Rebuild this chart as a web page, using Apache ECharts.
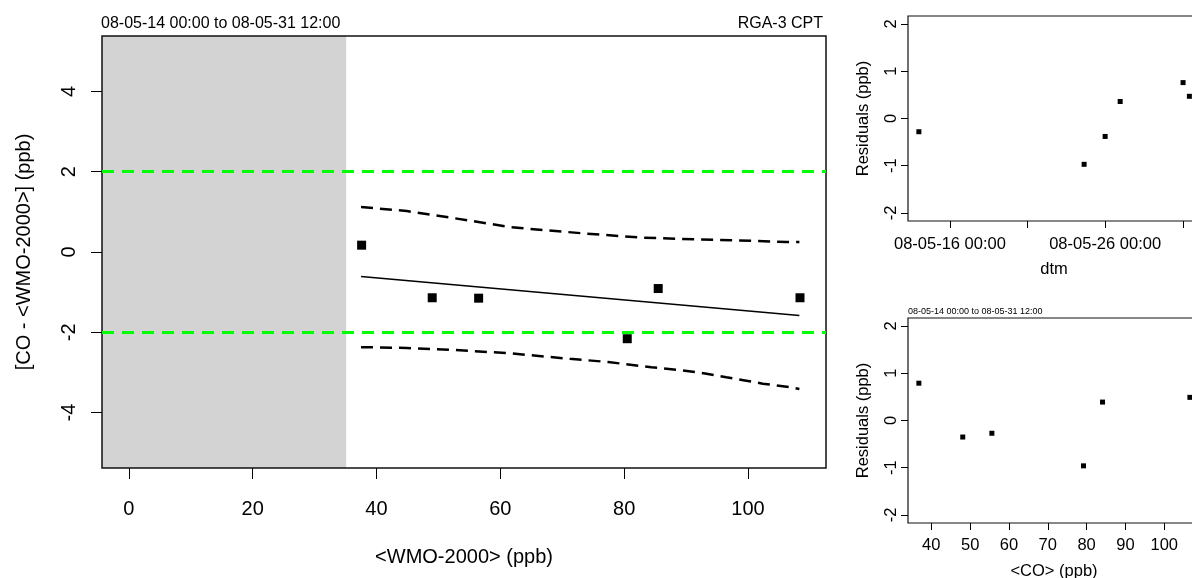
<!DOCTYPE html>
<html>
<head>
<meta charset="utf-8">
<script src="https://cdn.jsdelivr.net/npm/echarts@6/dist/echarts.min.js"></script>
<style>html,body{margin:0;padding:0;background:#fff;overflow:hidden;width:1192px;height:578px;}#c{width:1210px;height:578px;}</style>
</head>
<body>
<div id="c"></div>
<script>
// ---- data ----
const titleText = '08-05-14 00:00 to 08-05-31 12:00';
const instrumentText = 'RGA-3 CPT';

// main panel: difference vs WMO-2000 mole fraction
const wmoX = [37.6, 49.0, 56.5, 80.5, 85.5, 108.4];
const diffY = [0.17, -1.14, -1.15, -2.16, -0.91, -1.14];
const fitX = [37.5, 108.3];
const fitY = [-0.61, -1.58];
const upperX = [37.5, 44.9, 50.5, 55.6, 61.6, 67.5, 73.7, 82.5, 92.2, 98.4, 106.2, 108.3];
const upperY = [1.12, 1.02, 0.89, 0.77, 0.62, 0.54, 0.46, 0.36, 0.31, 0.29, 0.25, 0.25];
const lowerX = [37.5, 44.9, 52.4, 61.3, 71.2, 77.4, 84.4, 89.5, 93.3, 96.5, 99.5, 102.4, 107.3, 108.3];
const lowerY = [-2.37, -2.39, -2.44, -2.52, -2.66, -2.74, -2.87, -2.95, -3.03, -3.12, -3.20, -3.28, -3.38, -3.41];
const limitLines = [2, -2];
const excludedBelow = 35.1;
const mainXRange = [-4.33, 112.6];
const mainYRange = [-5.38, 5.38];
const mainXTicks = [0, 20, 40, 60, 80, 100];
const mainYTicks = [-4, -2, 0, 2, 4];

// residuals vs time
const resTimes = ['2008-05-14T00:00:00Z', '2008-05-24T15:30:00Z', '2008-05-26T00:00:00Z', '2008-05-26T23:15:00Z', '2008-05-31T00:30:00Z', '2008-05-31T10:15:00Z'];
const resVsTime = [-0.28, -0.97, -0.38, 0.36, 0.76, 0.47];
const timeRange = ['2008-05-13T07:12:00Z', '2008-06-01T02:40:00Z'];
const timeTicks = ['2008-05-16T00:00:00Z', '2008-05-21T00:00:00Z', '2008-05-26T00:00:00Z', '2008-05-31T00:00:00Z'];
const timeLabels = ['2008-05-16T00:00:00Z', '2008-05-26T00:00:00Z'];

// residuals vs CO
const coX = [36.8, 48.1, 55.6, 79.2, 84.1, 106.6];
const resVsCO = [0.79, -0.35, -0.27, -0.96, 0.39, 0.49];
const coRange = [34.0, 109.2];
const coTicks = [40, 50, 60, 70, 80, 90, 100];
const resRange = [-2.17, 2.17];
const resTicks = [-2, -1, 0, 1, 2];

// ---- chart ----
const FONT = "'Liberation Sans', Arial, sans-serif";
const pad = n => String(n).padStart(2, '0');
function fmtTime(v) {
  const d = new Date(v);
  return pad(d.getUTCFullYear() % 100) + '-' + pad(d.getUTCMonth() + 1) + '-' + pad(d.getUTCDate()) + ' ' + pad(d.getUTCHours()) + ':' + pad(d.getUTCMinutes());
}
const zip = (a, b) => a.map((v, i) => [v, b[i]]);
const ms = s => Date.parse(s);

function valAxis(extra) {
  return Object.assign({
    type: 'value',
    splitLine: { show: false },
    axisLine: { show: false, onZero: false },
    axisTick: { show: true, length: 7, lineStyle: { color: '#000', width: 1 } },
    axisLabel: { color: '#000', fontFamily: FONT, fontSize: 16.5 },
    nameTextStyle: { color: '#000', fontFamily: FONT, fontSize: 16.5 },
    nameLocation: 'middle'
  }, extra);
}

const chart = echarts.init(document.getElementById('c'), null, { renderer: 'canvas' });
chart.setOption({
  animation: false,
  backgroundColor: '#fff',
  title: [
    { text: titleText, left: 101, top: 16, padding: 0, textStyle: { fontFamily: FONT, fontSize: 16, fontWeight: 'normal', color: '#000' } },
    { text: instrumentText, right: 387, top: 16, padding: 0, textStyle: { fontFamily: FONT, fontSize: 16, fontWeight: 'normal', color: '#000' } },
    { text: titleText, left: 908, top: 307, padding: 0, textStyle: { fontFamily: FONT, fontSize: 9, fontWeight: 'normal', color: '#000' } }
  ],
  grid: [
    { left: 102, top: 36, width: 724, height: 432, show: true, z: 3, borderColor: '#111', borderWidth: 1.5, backgroundColor: 'transparent', outerBoundsMode: 'none', containLabel: false },
    { left: 908, top: 16, width: 292, height: 205, show: true, z: 3, borderColor: '#111', borderWidth: 1.2, backgroundColor: 'transparent', outerBoundsMode: 'none', containLabel: false },
    { left: 908, top: 318, width: 292, height: 205, show: true, z: 3, borderColor: '#111', borderWidth: 1.2, backgroundColor: 'transparent', outerBoundsMode: 'none', containLabel: false }
  ],
  xAxis: [
    valAxis({
      gridIndex: 0, min: mainXRange[0], max: mainXRange[1],
      name: '<WMO-2000> (ppb)', nameGap: 79,
      nameTextStyle: { color: '#000', fontFamily: FONT, fontSize: 20 },
      axisTick: { show: true, length: 11, customValues: mainXTicks, lineStyle: { color: '#000', width: 1 } },
      axisLabel: { customValues: mainXTicks, color: '#000', fontFamily: FONT, fontSize: 20, margin: 31 }
    }),
    valAxis({
      gridIndex: 1, min: ms(timeRange[0]), max: ms(timeRange[1]),
      name: 'dtm', nameGap: 40,
      axisTick: { show: true, length: 7, customValues: timeTicks.map(ms), lineStyle: { color: '#000', width: 1 } },
      axisLabel: { customValues: timeLabels.map(ms), formatter: v => fmtTime(v), color: '#000', fontFamily: FONT, fontSize: 16.5, margin: 15 }
    }),
    valAxis({
      gridIndex: 2, min: coRange[0], max: coRange[1],
      name: '<CO> (ppb)', nameGap: 40,
      axisTick: { show: true, length: 7, customValues: coTicks, lineStyle: { color: '#000', width: 1 } },
      axisLabel: { customValues: coTicks, color: '#000', fontFamily: FONT, fontSize: 16.5, margin: 14 }
    })
  ],
  yAxis: [
    valAxis({
      gridIndex: 0, min: mainYRange[0], max: mainYRange[1],
      name: '[CO - <WMO-2000>] (ppb)', nameGap: 68,
      nameTextStyle: { color: '#000', fontFamily: FONT, fontSize: 20 },
      axisTick: { show: true, length: 11, customValues: mainYTicks, lineStyle: { color: '#000', width: 1 } },
      axisLabel: { customValues: mainYTicks, rotate: 90, color: '#000', fontFamily: FONT, fontSize: 20, margin: 23 }
    }),
    valAxis({
      gridIndex: 1, min: resRange[0], max: resRange[1],
      name: 'Residuals (ppb)', nameGap: 36,
      axisTick: { show: true, length: 7, customValues: resTicks, lineStyle: { color: '#000', width: 1 } },
      axisLabel: { customValues: resTicks, rotate: 90, color: '#000', fontFamily: FONT, fontSize: 16.5, margin: 8 }
    }),
    valAxis({
      gridIndex: 2, min: resRange[0], max: resRange[1],
      name: 'Residuals (ppb)', nameGap: 36,
      axisTick: { show: true, length: 7, customValues: resTicks, lineStyle: { color: '#000', width: 1 } },
      axisLabel: { customValues: resTicks, rotate: 90, color: '#000', fontFamily: FONT, fontSize: 16.5, margin: 8 }
    })
  ],
  series: [
    {
      type: 'line', xAxisIndex: 0, yAxisIndex: 0, data: [], silent: true,
      markArea: {
        silent: true,
        itemStyle: { color: '#d3d3d3' },
        data: [[{ xAxis: mainXRange[0] }, { xAxis: excludedBelow }]]
      },
      markLine: {
        silent: true, symbol: ['none', 'none'], label: { show: false },
        lineStyle: { color: '#00ff00', width: 3, type: [12, 8] },
        data: limitLines.map(v => ({ yAxis: v }))
      }
    },
    {
      type: 'line', xAxisIndex: 0, yAxisIndex: 0, data: zip(upperX, upperY), showSymbol: false, silent: true,
      lineStyle: { color: '#000', width: 2.5, type: [12, 7] }
    },
    {
      type: 'line', xAxisIndex: 0, yAxisIndex: 0, data: zip(lowerX, lowerY), showSymbol: false, silent: true,
      lineStyle: { color: '#000', width: 2.5, type: [12, 7] }
    },
    {
      type: 'line', xAxisIndex: 0, yAxisIndex: 0, data: zip(fitX, fitY), showSymbol: false, silent: true,
      lineStyle: { color: '#000', width: 1.5 }
    },
    {
      type: 'scatter', xAxisIndex: 0, yAxisIndex: 0, data: zip(wmoX, diffY),
      symbol: 'rect', symbolSize: 9, itemStyle: { color: '#000', opacity: 1 }
    },
    {
      type: 'scatter', xAxisIndex: 1, yAxisIndex: 1, data: zip(resTimes.map(ms), resVsTime),
      symbol: 'rect', symbolSize: 5, itemStyle: { color: '#000', opacity: 1 }
    },
    {
      type: 'scatter', xAxisIndex: 2, yAxisIndex: 2, data: zip(coX, resVsCO),
      symbol: 'rect', symbolSize: 5, itemStyle: { color: '#000', opacity: 1 }
    }
  ]
});
</script>
</body>
</html>
